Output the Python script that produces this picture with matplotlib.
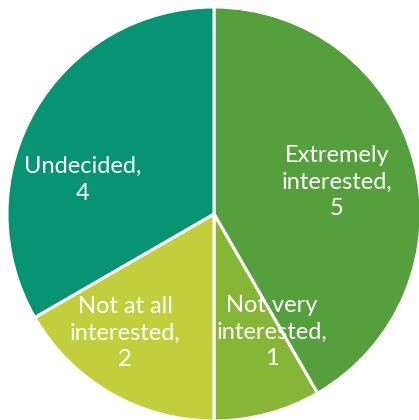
import matplotlib
matplotlib.use("Agg")
import matplotlib.pyplot as plt

# data
categories = ["Extremely\ninterested,\n5", "Not very\ninterested,\n1",
              "Not at all\ninterested,\n2", "Undecided,\n4"]
values = [5, 1, 2, 4]
colors = ["#55a03d", "#86b636", "#c2cf3c", "#079473"]

# label anchor offsets from pie centre (pixels, y up)
label_pos = [(123, 32), (58, -118), (-89, -119), (-131, 34)]

W, H = 419, 420
cx, cy = 214, 214      # pie centre in image pixels (from top-left)
R = 207

fig = plt.figure(figsize=(W / 100, H / 100), dpi=100)
ax = fig.add_axes([0, 0, 1, 1])

ax.pie(values, colors=colors, startangle=90, counterclock=False,
       radius=R, center=(0, 0), frame=True,
       wedgeprops=dict(edgecolor="white", linewidth=2.2))
ax.set_xlim(-cx, W - cx)
ax.set_ylim(-(H - cy), cy)
ax.set_aspect("equal")
ax.axis("off")

for text, (x, y) in zip(categories, label_pos):
    ax.text(x, y, text, ha="center", va="center", color="white",
            fontsize=17, family="Lato", linespacing=1.35)

fig.savefig("out.png", dpi=100)
